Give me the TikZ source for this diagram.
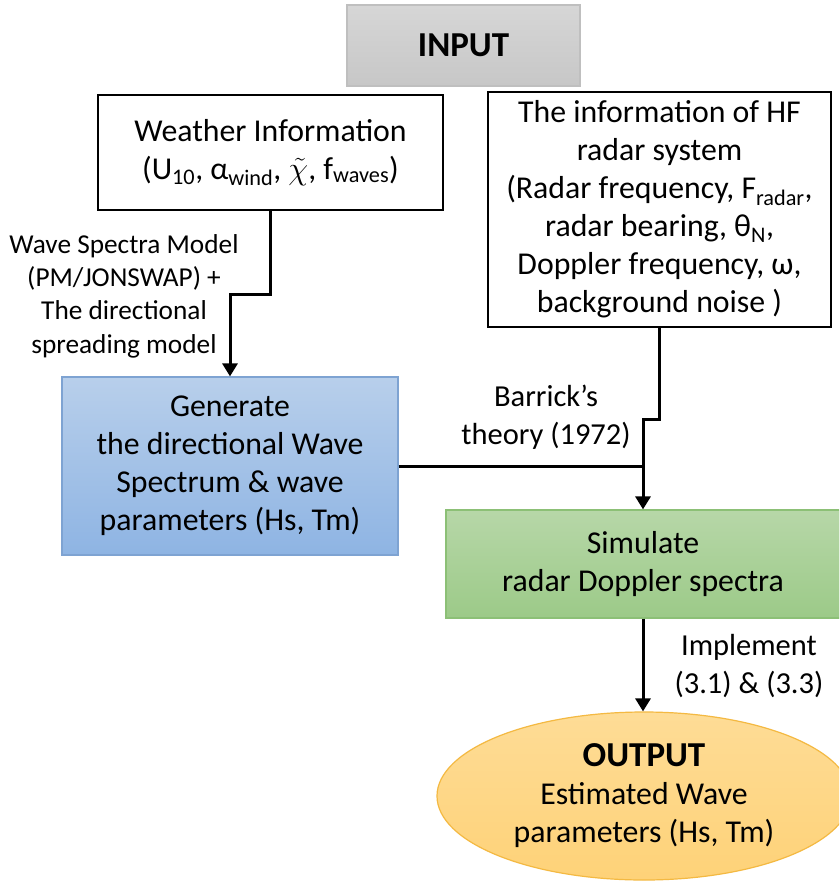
\documentclass[tikz,border=0pt]{standalone}
\usepackage{fontspec}
\setmainfont{Carlito}
\usetikzlibrary{shapes.geometric,arrows.meta}

\tikzset{
  x=1pt, y=-1pt,
  txt/.style={font=\fontsize{31.8}{38}\selectfont, align=center},
  lbl/.style={font=\fontsize{27.3}{33.3}\selectfont, align=center, inner sep=0pt},
  lblbig/.style={font=\fontsize{30.5}{38}\selectfont, align=center, inner sep=0pt},
  plainbox/.style={txt, draw=black, line width=2pt, fill=white, inner sep=0pt},
  flow/.style={line width=3pt, line join=miter},
  arr/.style={flow, -{Triangle[width=15pt,length=13pt]}},
}
% enlarged italic chi with tilde
\newcommand{\chitilde}{\scalebox{1.3}{$\tilde{\chi}$}}

\begin{document}
\begin{tikzpicture}
\clip (0,0) rectangle (839,883);
\fill[white] (0,0) rectangle (839,883);

% header
\node[draw=black!25, line width=1.5pt, top color=black!16, bottom color=black!22,
      minimum width=233, minimum height=81, inner sep=0pt,
      font=\fontsize{35}{40}\selectfont\bfseries] (input) at (463.5,45.5) {INPUT};

% input boxes
\node[plainbox, minimum width=345, minimum height=115] (weather) at (270.5,152.5)
  {Weather Information\\(U\textsubscript{10}, α\textsubscript{wind}, \chitilde, f\textsubscript{waves})};
\node[plainbox, minimum width=343, minimum height=235] (hf) at (659.5,209.5)
  {The information of HF\\radar system\\(Radar frequency, F\textsubscript{radar},\\radar bearing, θ\textsubscript{N},\\Doppler frequency, ω,\\background noise )};

% processing boxes
\node[txt, draw={rgb,255:red,126;green,163;blue,210}, line width=1.2pt,
      top color={rgb,255:red,184;green,207;blue,235},
      bottom color={rgb,255:red,142;green,180;blue,227},
      minimum width=336, minimum height=178, inner sep=0pt] (gen) at (230,466)
  {Generate\\the directional Wave\\Spectrum \& wave\\parameters (Hs, Tm)};
\node[txt, draw={rgb,255:red,140;green,192;blue,118}, line width=1.2pt,
      top color={rgb,255:red,183;green,215;blue,168},
      bottom color={rgb,255:red,156;green,202;blue,136},
      minimum width=394, minimum height=108, inner sep=0pt] (sim) at (643,564)
  {Simulate\\radar Doppler spectra};

% result
\node[ellipse, txt, draw={rgb,255:red,244;green,185;blue,66}, line width=1.2pt,
      top color={rgb,255:red,254;green,220;blue,150},
      bottom color={rgb,255:red,254;green,210;blue,120},
      minimum width=414, minimum height=168, inner sep=0pt] (out) at (644,796)
  {{\fontsize{35}{40}\selectfont\bfseries OUTPUT}\\Estimated Wave\\parameters (Hs, Tm)};

% connector labels
\node[lbl] (lspec) at (124,296) {Wave Spectra Model\\(PM/JONSWAP) +\\The directional\\spreading model};
\node[lblbig] (lbar) at (546,417) {Barrick’s\\theory (1972)};
\node[lblbig] (limp) at (749,666) {Implement\\(3.1) \& (3.3)};

% connectors
\draw[arr] (weather.south) -- ++(0,83) -| (gen.north);
\draw[arr] (hf.south) -- ++(0,91) -| (sim.north);
\draw[flow] (gen.east) -- (gen.east -| sim.north);
\draw[arr] (sim.south) -- (out.north -| sim.south);
\end{tikzpicture}
\end{document}
